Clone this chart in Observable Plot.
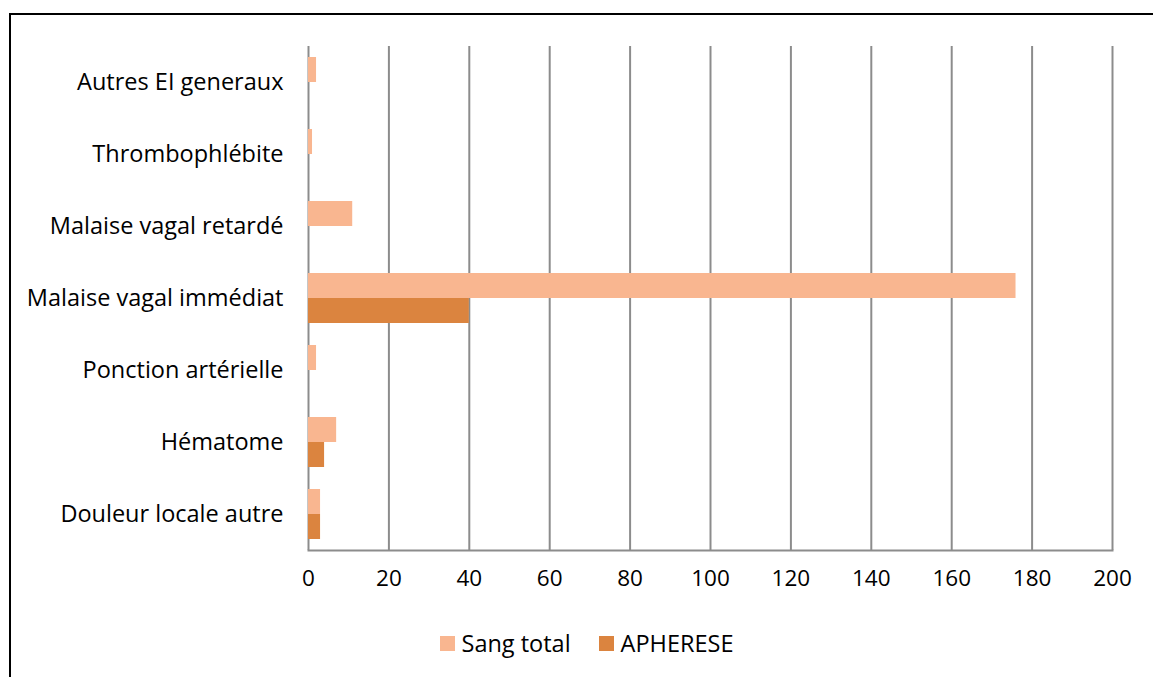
<!DOCTYPE html>
<html>
<head>
<meta charset="utf-8">
<script src="https://cdn.jsdelivr.net/npm/d3@7"></script>
<script src="https://cdn.jsdelivr.net/npm/@observablehq/plot@0.6"></script>
<style>
  html, body { margin: 0; padding: 0; background: #fff; }
  body { width: 1153px; height: 677px; overflow: hidden; position: relative; font-family: "Open Sans", sans-serif; }
  #frame { position: absolute; left: 9px; top: 13px; width: 1300px; height: 800px; border: 2px solid #000; box-sizing: border-box; }
  #chart { position: absolute; left: 0; top: 0; }
  #legend { position: absolute; left: 0; top: 627px; width: 1153px; display: flex; justify-content: center; align-items: center; font-size: 23.5px; color: #000; padding-left: 20px; box-sizing: border-box; }
  .item { display: flex; align-items: center; margin: 0 14px; }
  .sw { width: 15px; height: 15px; margin-right: 7px; }
</style>
</head>
<body>
<div id="frame"></div>
<div id="chart"></div>
<div id="legend"></div>
<script>
const categories = ["Autres EI generaux", "Thrombophlébite", "Malaise vagal retardé", "Malaise vagal immédiat", "Ponction artérielle", "Hématome", "Douleur locale autre"];
const series = ["Sang total", "APHERESE"];
const sangTotal = [2, 1, 11, 176, 2, 7, 3];
const apherese = [0, 0, 0, 40, 0, 4, 3];
const xTicks = [0, 20, 40, 60, 80, 100, 120, 140, 160, 180, 200];
const colors = ["#F9B690", "#DB843F"];

const data = [];
categories.forEach((c, i) => {
  data.push({category: c, series: series[0], value: sangTotal[i]});
  data.push({category: c, series: series[1], value: apherese[i]});
});

const font = '"Open Sans", sans-serif';
const chart = Plot.plot({
  width: 1153,
  height: 610,
  marginLeft: 308,
  marginRight: 41,
  marginTop: 43,
  marginBottom: 58,
  style: {fontFamily: font, fontSize: "23px", color: "#000", background: "transparent", overflow: "visible"},
  x: {domain: [0, 200], axis: null},
  y: {domain: series, paddingInner: 0, paddingOuter: 0.4, axis: null},
  fy: {domain: categories, padding: 0, axis: null},
  color: {domain: series, range: colors},
  marks: [
    Plot.ruleX(xTicks, {stroke: "#8c8c8c", strokeWidth: 2}),
    Plot.barX(data, {fy: "category", y: "series", x: "value", fill: "series"}),
    Plot.frame({anchor: "bottom", facetAnchor: "bottom", stroke: "#8c8c8c", strokeWidth: 2}),
    Plot.axisX(xTicks, {anchor: "bottom", tickSize: 0, tickPadding: 20, fill: "#000", fontSize: 22.5, label: null}),
    Plot.axisFy({anchor: "left", tickSize: 0, tickPadding: 25, fill: "#000", fontSize: 23.5, label: null})
  ]
});
document.getElementById("chart").appendChild(chart);

const legend = document.getElementById("legend");
series.forEach((s, i) => {
  const item = document.createElement("div");
  item.className = "item";
  const sw = document.createElement("div");
  sw.className = "sw";
  sw.style.background = colors[i];
  const t = document.createElement("span");
  t.textContent = s;
  item.appendChild(sw);
  item.appendChild(t);
  legend.appendChild(item);
});
</script>
</body>
</html>
